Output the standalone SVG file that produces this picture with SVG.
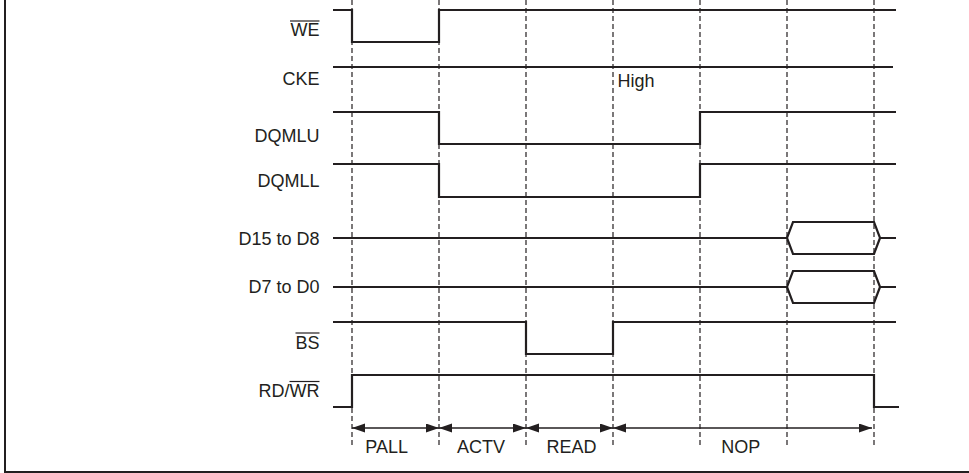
<svg xmlns="http://www.w3.org/2000/svg" width="969" height="473" viewBox="0 0 969 473">
<style>
.frame{stroke:#231f20;stroke-width:2;fill:none}
.grid{stroke:#231f20;stroke-width:1.2;stroke-dasharray:5 3;fill:none}
.sig{stroke:#231f20;stroke-width:2.2;fill:none;stroke-linejoin:miter}
.lbl{font-family:"Liberation Sans",Arial,sans-serif;font-size:18px;fill:#231f20;text-anchor:end}
.txt{font-family:"Liberation Sans",Arial,sans-serif;font-size:18px;fill:#231f20}
.ovl{stroke:#231f20;stroke-width:1.2}
.dim{stroke:#231f20;stroke-width:1.3;fill:none;marker-start:url(#ah);marker-end:url(#ah)}
</style>
<defs>
<marker id="ah" markerUnits="userSpaceOnUse" markerWidth="14" markerHeight="10" refX="13" refY="4.5" orient="auto-start-reverse">
<path d="M0,0 L13,4.5 L0,9 Z" fill="#231f20"/>
</marker>
</defs>
<rect width="969" height="473" fill="#ffffff"/>
<g id="frame">
<path class="frame" d="M5,0 V472 H969"/>
</g>
<g id="grid">
<line class="grid" x1="352" y1="0" x2="352" y2="447"/>
<line class="grid" x1="439" y1="0" x2="439" y2="447"/>
<line class="grid" x1="526" y1="0" x2="526" y2="447"/>
<line class="grid" x1="613" y1="0" x2="613" y2="447"/>
<line class="grid" x1="700" y1="0" x2="700" y2="447"/>
<line class="grid" x1="787" y1="0" x2="787" y2="447"/>
<line class="grid" x1="874" y1="0" x2="874" y2="447"/>
</g>
<g id="we">
<text class="lbl" x="319.5" y="36">WE</text>
<line class="ovl" x1="290" y1="21" x2="319.5" y2="21"/>
<path class="sig" d="M333,10 H352 V42 H439 V10 H896"/>
</g>
<g id="cke">
<text class="lbl" x="319.5" y="85">CKE</text>
<path class="sig" d="M333,67 H893"/>
<text class="txt" x="617.5" y="86.5">High</text>
</g>
<g id="dqmlu">
<text class="lbl" x="319.5" y="141.7">DQMLU</text>
<path class="sig" d="M333,112 H439 V144 H700 V112 H896"/>
</g>
<g id="dqmll">
<text class="lbl" x="319.5" y="186.5">DQMLL</text>
<path class="sig" d="M333,164 H439 V197 H700 V164 H896"/>
</g>
<g id="d15-d8">
<text class="lbl" x="319.5" y="245">D15 to D8</text>
<path class="sig" d="M333,238 H787 L793,222 H874 L880,238 H896 M787,238 L793,254 H874 L880,238"/>
</g>
<g id="d7-d0">
<text class="lbl" x="319.5" y="292.7">D7 to D0</text>
<path class="sig" d="M333,287 H787 L793,271 H874 L880,287 H896 M787,287 L793,303 H874 L880,287"/>
</g>
<g id="bs">
<text class="lbl" x="319.5" y="349.3">BS</text>
<line class="ovl" x1="295.5" y1="333" x2="319.5" y2="333"/>
<path class="sig" d="M333,322 H526 V354 H613 V322 H896"/>
</g>
<g id="rdwr">
<text class="lbl" x="319.5" y="397">RD/WR</text>
<line class="ovl" x1="289.5" y1="381.5" x2="319.5" y2="381.5"/>
<path class="sig" d="M333,407 H352 V375 H874 V407 H899"/>
</g>
<g id="connectors">
<line class="dim" x1="352" y1="428" x2="439" y2="428"/>
<line class="dim" x1="439" y1="428" x2="526" y2="428"/>
<line class="dim" x1="526" y1="428" x2="613" y2="428"/>
<line class="dim" x1="613" y1="428" x2="872" y2="428"/>
</g>
<g id="phases">
<text class="txt" x="386.7" y="452.7" text-anchor="middle">PALL</text>
<text class="txt" x="481" y="452.7" text-anchor="middle">ACTV</text>
<text class="txt" x="571.5" y="452.7" text-anchor="middle">READ</text>
<text class="txt" x="740.7" y="452.7" text-anchor="middle">NOP</text>
</g>
</svg>
